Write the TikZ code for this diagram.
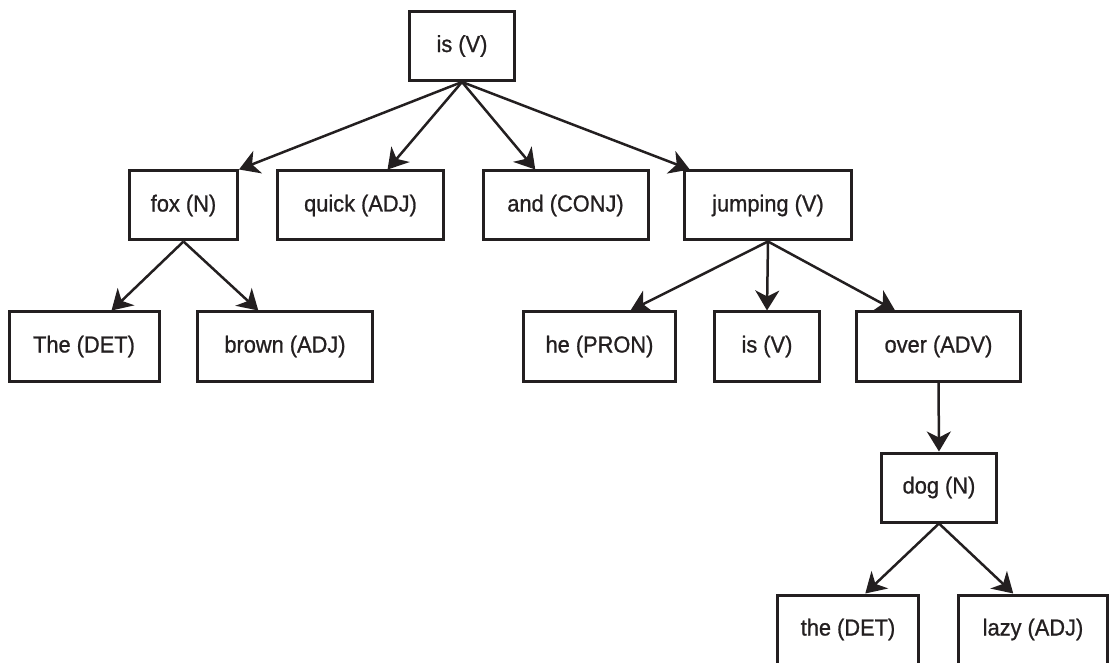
\documentclass[tikz,border=0pt]{standalone}
\usepackage{fontspec}
\setmainfont{Liberation Sans}
\newfontfamily\labelfont{Liberation Sans}[FakeBold=0.9, FakeStretch=0.94]
\usetikzlibrary{arrows.meta,calc}
\definecolor{ink}{RGB}{35,31,32}
\begin{document}
\begin{tikzpicture}[
  x=0.5pt, y=-0.5pt,
  wordbox/.style={draw=ink, text=ink, line width=1.5pt, minimum height=34.5pt,
    inner sep=0pt, font=\labelfont\fontsize{11.6}{13}\selectfont},
  dep/.style={draw=ink, line width=1.25pt,
    -{Stealth[length=10pt, width=12pt, inset=3pt]}}
]
\useasboundingbox (0,0) rectangle (1114,663);
\clip (0,0) rectangle (1114,663);

% root
\node[wordbox, minimum width=52.5pt] (root) at (462,46) {is (V)};

% second level
\node[wordbox, minimum width=54pt] (fox)   at (183.5,205.5) {fox (N)};
\node[wordbox, minimum width=83pt] (quick) at (360.5,205.5) {quick (ADJ)};
\node[wordbox, minimum width=82.5pt] (and) at (565.5,205.5) {and (CONJ)};
\node[wordbox, minimum width=83.5pt] (jump) at (768,205.5) {jumping (V)};

% third level
\node[wordbox, minimum width=75pt] (det1)  at (84,346.5) {The (DET)};
\node[wordbox, minimum width=87.5pt] (brown) at (285,346.5) {brown (ADJ)};
\node[wordbox, minimum width=76pt] (he)    at (599.5,346.5) {he (PRON)};
\node[wordbox, minimum width=52.5pt] (is2)  at (767,346.5) {is (V)};
\node[wordbox, minimum width=82pt] (over)  at (938.5,346.5) {over (ADV)};

% fourth and fifth level
\node[wordbox, minimum width=57.5pt] (dog)  at (939,487.5) {dog (N)};
\node[wordbox, minimum width=70.5pt] (det2) at (848,629.5) {the (DET)};
\node[wordbox, minimum width=74.5pt] (lazy) at (1033,629.5) {lazy (ADJ)};

% dependency arrows
\draw[dep] (root.south) -- (fox.north east);
\draw[dep] (root.south) -- ($(quick.north west)!0.66!(quick.north east)$);
\draw[dep] (root.south) -- ($(and.north west)!0.32!(and.north east)$);
\draw[dep] (root.south) -- ($(jump.north west)!0.04!(jump.north east)$);

\draw[dep] (fox.south) -- ($(det1.north west)!0.68!(det1.north east)$);
\draw[dep] (fox.south) -- ($(brown.north west)!0.35!(brown.north east)$);

\draw[dep] (jump.south) -- ($(he.north west)!0.70!(he.north east)$);
\draw[dep] (jump.south) -- (is2.north);
\draw[dep] (jump.south) -- ($(over.north west)!0.24!(over.north east)$);

\draw[dep] (over.south) -- (dog.north);

\draw[dep] (dog.south) -- ($(det2.north west)!0.62!(det2.north east)$);
\draw[dep] (dog.south) -- ($(lazy.north west)!0.37!(lazy.north east)$);
\end{tikzpicture}
\end{document}
